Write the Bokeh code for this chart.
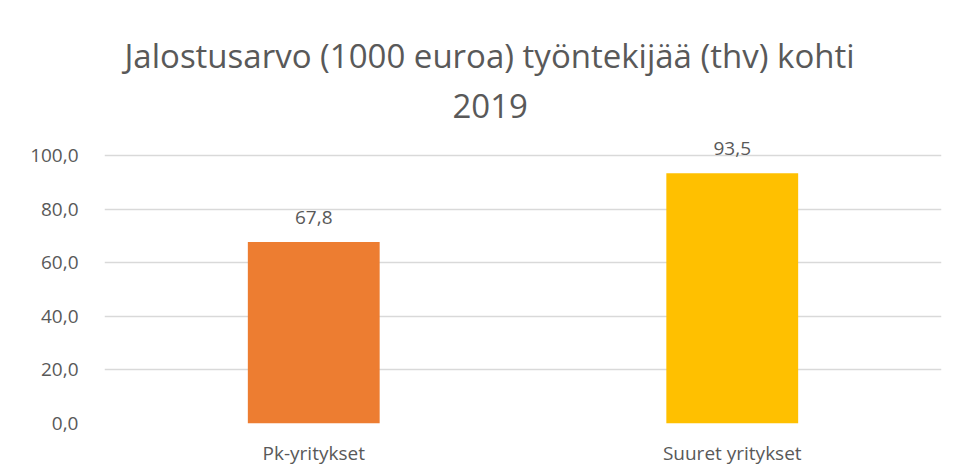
from bokeh.plotting import figure
from bokeh.models import (ColumnDataSource, FactorRange, Range1d, FixedTicker,
                          CustomJSTickFormatter, LabelSet, Title)
from bokeh.core.properties import value
from bokeh.embed import file_html
from bokeh.resources import INLINE

categories = ["Pk-yritykset", "Suuret yritykset"]
values = [67.8, 93.5]
colors = ["#ED7D31", "#FFC000"]
y_ticks = [0, 20, 40, 60, 80, 100]
title_line1 = "Jalostusarvo (1000 euroa) työntekijää (thv) kohti"
title_line2 = "2019"

labels = [f"{v:.1f}".replace(".", ",") for v in values]
source = ColumnDataSource(dict(cat=categories, val=values, color=colors, lab=labels))

FONT = "Open Sans"
GRAY = "#595959"

p = figure(width=955, height=476, x_range=FactorRange(*categories),
           y_range=Range1d(0, 108), output_backend="svg", toolbar_location=None,
           min_border_left=104, min_border_right=14, min_border_bottom=53,
           min_border_top=134)
p.title.visible = False

t2 = Title(text=title_line2, align="left", text_font=FONT, text_font_size="33px",
           text_font_style="normal", text_color=GRAY, offset=348, standoff=34)
t1 = Title(text=title_line1, align="left", text_font=FONT, text_font_size="33px",
           text_font_style="normal", text_color=GRAY, offset=20, standoff=-6)
p.add_layout(t2, "above")
p.add_layout(t1, "above")

p.vbar(x="cat", top="val", width=0.315, fill_color="color", line_color=None, source=source)

p.add_layout(LabelSet(x="cat", y="val", text="lab", source=source, y_offset=25,
                      text_align="center", text_baseline="middle",
                      text_font=value(FONT), text_font_size=value("19px"),
                      text_color=GRAY))

p.outline_line_color = None
p.xgrid.grid_line_color = None
p.ygrid.grid_line_color = "#D9D9D9"
p.ygrid.grid_line_width = 1.3
p.yaxis.ticker = FixedTicker(ticks=y_ticks)
p.yaxis.formatter = CustomJSTickFormatter(code="return tick.toFixed(1).replace('.', ',');")

for ax in (p.xaxis, p.yaxis):
    ax.axis_line_color = None
    ax.major_tick_line_color = None
    ax.minor_tick_line_color = None
    ax.major_label_text_font = FONT
    ax.major_label_text_font_size = "19px"
    ax.major_label_text_color = GRAY
p.yaxis.major_label_standoff = 20
p.xaxis.major_label_standoff = 10

open("out.html", "w").write(file_html(p, INLINE))
